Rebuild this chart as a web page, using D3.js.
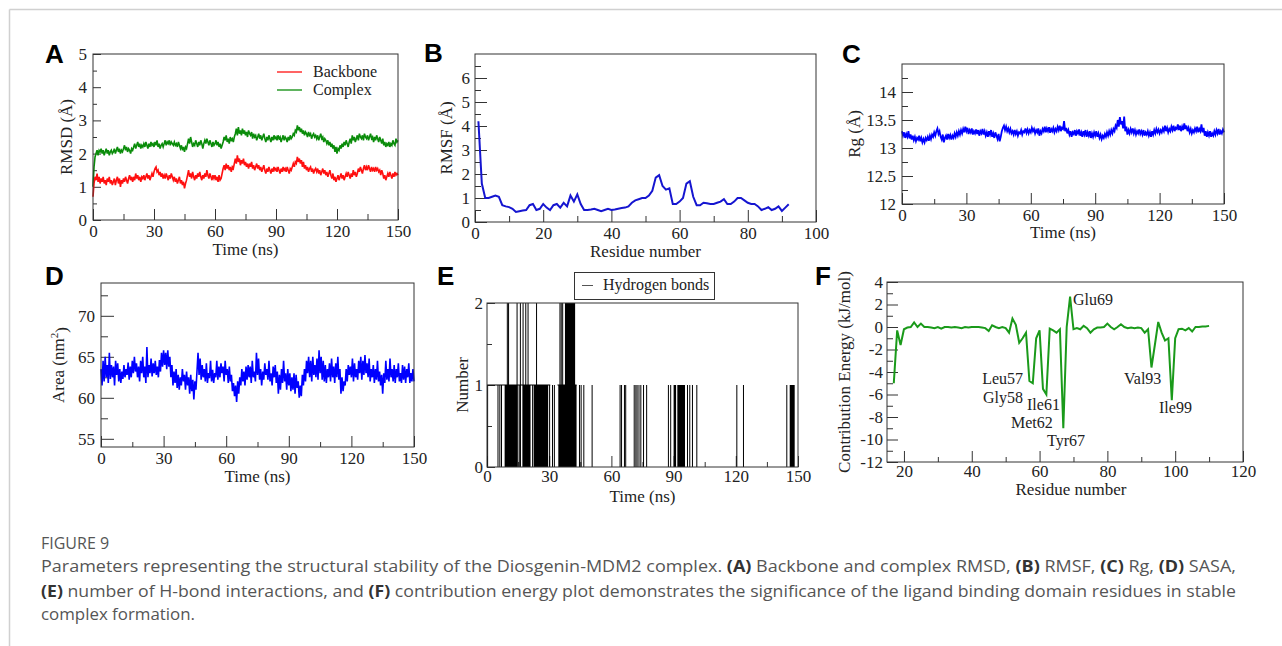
<!DOCTYPE html>
<html>
<head>
<meta charset="utf-8">
<script src="https://cdn.jsdelivr.net/npm/d3@7/dist/d3.min.js"></script>
<style>
html,body{margin:0;padding:0;background:#fff;}
svg{display:block;}
.tk text{font-family:"Liberation Serif","Times New Roman",serif !important;font-size:17px !important;fill:#222;}
.tk line{stroke:#333;stroke-width:1;}
.ttl{font-family:"Liberation Serif","Times New Roman",serif;font-size:17px;fill:#222;}
.plab{font-family:"Liberation Sans",Arial,sans-serif;font-weight:bold;font-size:26px;fill:#000;}
.cap{font-family:"Open Sans","Noto Sans",sans-serif;font-size:15.5px;fill:#555;}
</style>
</head>
<body>
<svg id="fig" width="1282" height="646"></svg>
<script>
// ---------------- DATA ----------------
const timeStep = 0.5; // ns between samples in A, C, D
const rmsdComplex = [
1.0,1.6,1.9,2.0,2.1,1.95,2.1,2.05,2.15,2.0,
2.1,1.95,2.05,2.15,2.0,2.1,1.95,2.05,2.1,2.0,
2.05,2.15,2.0,2.1,2.2,2.05,2.15,2.0,2.1,2.05,
2.15,2.25,2.1,2.2,2.05,2.15,2.1,2.0,2.15,2.1,
2.2,2.3,2.15,2.25,2.35,2.2,2.3,2.15,2.25,2.2,
2.3,2.2,2.35,2.25,2.15,2.3,2.2,2.35,2.25,2.3,
2.2,2.35,2.25,2.4,2.2,2.3,2.15,2.25,2.3,2.2,
2.3,2.4,2.25,2.35,2.3,2.4,2.25,2.35,2.3,2.25,
2.35,2.25,2.3,2.2,2.35,2.25,2.15,2.25,2.1,2.2,
2.05,2.2,2.15,2.3,2.45,2.3,2.5,2.35,2.2,2.3,
2.25,2.4,2.3,2.2,2.35,2.25,2.4,2.3,2.15,2.3,
2.4,2.3,2.45,2.35,2.25,2.4,2.3,2.2,2.35,2.25,
2.3,2.4,2.25,2.35,2.2,2.3,2.15,2.25,2.35,2.5,
2.4,2.55,2.35,2.45,2.3,2.5,2.4,2.45,2.35,2.5,
2.6,2.75,2.55,2.8,2.6,2.7,2.55,2.75,2.6,2.7,
2.55,2.65,2.5,2.7,2.6,2.55,2.65,2.45,2.6,2.5,
2.55,2.4,2.5,2.6,2.45,2.55,2.4,2.5,2.6,2.45,
2.35,2.5,2.4,2.55,2.45,2.35,2.5,2.4,2.55,2.45,
2.5,2.4,2.55,2.45,2.5,2.35,2.45,2.55,2.4,2.5,
2.45,2.35,2.5,2.4,2.55,2.45,2.5,2.6,2.55,2.7,
2.65,2.85,2.7,2.8,2.65,2.75,2.6,2.7,2.55,2.65,
2.6,2.5,2.65,2.55,2.6,2.45,2.55,2.6,2.5,2.55,
2.45,2.55,2.4,2.5,2.6,2.45,2.5,2.35,2.45,2.4,
2.3,2.4,2.25,2.35,2.2,2.3,2.15,2.25,2.05,2.2,
2.0,2.15,2.1,2.25,2.15,2.3,2.2,2.35,2.25,2.4,
2.3,2.2,2.35,2.45,2.3,2.55,2.4,2.5,2.35,2.45,
2.55,2.4,2.6,2.5,2.45,2.55,2.4,2.6,2.5,2.45,
2.55,2.4,2.5,2.6,2.45,2.5,2.35,2.5,2.4,2.55,
2.45,2.35,2.5,2.4,2.3,2.45,2.25,2.35,2.2,2.3,
2.25,2.35,2.2,2.3,2.25,2.4,2.3,2.25,2.45,2.35,
2.4];
const rmsdBackbone = [
0.7,1.1,1.3,1.2,1.4,1.15,1.3,1.1,1.25,1.15,
1.3,1.1,1.2,1.05,1.25,1.15,1.3,1.1,1.2,1.05,
1.15,1.25,1.05,1.2,1.3,1.1,1.25,1.0,1.2,1.1,
1.25,1.15,1.3,1.2,1.1,1.25,1.35,1.2,1.3,1.15,
1.3,1.2,1.4,1.25,1.35,1.2,1.3,1.15,1.3,1.25,
1.35,1.2,1.3,1.4,1.25,1.35,1.2,1.3,1.4,1.3,
1.45,1.55,1.6,1.45,1.5,1.35,1.45,1.3,1.4,1.25,
1.35,1.25,1.4,1.3,1.2,1.35,1.25,1.4,1.3,1.2,
1.3,1.15,1.25,1.1,1.2,1.3,1.1,1.2,1.05,1.15,
0.95,1.1,1.2,1.35,1.5,1.3,1.4,1.25,1.45,1.3,
1.2,1.35,1.25,1.4,1.3,1.45,1.3,1.2,1.35,1.25,
1.4,1.3,1.5,1.35,1.25,1.4,1.3,1.2,1.35,1.25,
1.35,1.2,1.3,1.15,1.35,1.2,1.25,1.4,1.55,1.65,
1.5,1.7,1.55,1.65,1.5,1.6,1.45,1.6,1.55,1.7,
1.85,1.7,1.95,1.75,1.85,1.65,1.8,1.7,1.85,1.65,
1.75,1.6,1.7,1.55,1.7,1.6,1.75,1.55,1.65,1.5,
1.6,1.7,1.55,1.65,1.5,1.6,1.45,1.55,1.65,1.5,
1.4,1.55,1.45,1.6,1.5,1.4,1.55,1.45,1.6,1.5,
1.55,1.45,1.6,1.5,1.4,1.55,1.45,1.6,1.5,1.55,
1.45,1.6,1.5,1.4,1.55,1.5,1.6,1.7,1.6,1.75,
1.7,1.9,1.75,1.85,1.7,1.8,1.6,1.75,1.55,1.65,
1.5,1.6,1.45,1.55,1.6,1.45,1.55,1.4,1.5,1.55,
1.45,1.55,1.4,1.5,1.35,1.45,1.55,1.4,1.5,1.35,
1.45,1.3,1.4,1.5,1.35,1.25,1.4,1.2,1.3,1.15,
1.25,1.35,1.2,1.3,1.4,1.25,1.35,1.2,1.3,1.4,
1.3,1.45,1.35,1.25,1.4,1.3,1.5,1.35,1.45,1.3,
1.4,1.55,1.45,1.6,1.5,1.4,1.55,1.65,1.5,1.6,
1.5,1.65,1.55,1.45,1.6,1.5,1.55,1.45,1.6,1.5,
1.55,1.45,1.5,1.35,1.5,1.4,1.25,1.35,1.2,1.3,
1.4,1.3,1.45,1.35,1.25,1.4,1.3,1.45,1.35,1.4,
1.35];
const rmsfResidues = [1,2,3,4,5,6,7,8,9,10,11,12,13,14,15,16,17,18,19,20,21,22,23,24,25,26,27,28,29,30,31,32,33,34,35,36,37,38,39,40,41,42,43,44,45,46,47,48,49,50,51,52,53,54,55,56,57,58,59,60,61,62,63,64,65,66,67,68,69,70,71,72,73,74,75,76,77,78,79,80,81,82,83,84,85,86,87,88,89,90,91,92];
const rmsfValues = [4.2,1.6,1.0,1.0,1.05,1.1,1.05,0.7,0.65,0.62,0.55,0.42,0.45,0.48,0.5,0.7,0.75,0.5,0.55,0.75,0.6,0.5,0.7,0.75,0.6,0.8,0.65,1.1,0.85,1.15,0.75,0.5,0.5,0.52,0.55,0.5,0.45,0.5,0.55,0.5,0.52,0.55,0.58,0.6,0.65,0.8,0.9,0.95,1.0,1.0,1.1,1.3,1.85,1.95,1.5,1.35,1.4,0.75,0.75,0.85,1.0,1.6,1.7,1.05,0.7,0.7,0.8,0.78,0.75,0.75,0.8,0.85,0.95,0.75,0.75,0.85,1.0,1.0,0.9,0.8,0.75,0.75,0.65,0.5,0.55,0.62,0.5,0.55,0.65,0.46,0.6,0.74];
const rgValues = [
13.3,13.22,13.28,13.18,13.25,13.2,13.3,13.17,13.24,13.15,
13.22,13.14,13.2,13.12,13.18,13.15,13.22,13.12,13.18,13.1,
13.16,13.1,13.18,13.14,13.2,13.13,13.22,13.16,13.24,13.2,
13.28,13.22,13.3,13.35,13.25,13.3,13.2,13.15,13.24,13.1,
13.18,13.22,13.15,13.25,13.18,13.23,13.15,13.22,13.18,13.26,
13.2,13.28,13.22,13.3,13.24,13.32,13.26,13.34,13.28,13.38,
13.3,13.36,13.25,13.32,13.28,13.35,13.24,13.3,13.26,13.33,
13.25,13.32,13.22,13.3,13.26,13.34,13.24,13.3,13.22,13.28,
13.2,13.3,13.24,13.32,13.2,13.26,13.18,13.28,13.22,13.16,
13.25,13.12,13.2,13.3,13.36,13.4,13.32,13.38,13.3,13.35,
13.28,13.34,13.26,13.3,13.24,13.32,13.25,13.3,13.22,13.28,
13.26,13.32,13.24,13.3,13.28,13.35,13.27,13.33,13.26,13.32,
13.28,13.36,13.3,13.34,13.26,13.32,13.28,13.35,13.22,13.3,
13.26,13.34,13.3,13.38,13.28,13.35,13.3,13.37,13.27,13.34,
13.3,13.36,13.28,13.34,13.3,13.38,13.32,13.4,13.3,13.36,
13.34,13.48,13.3,13.36,13.26,13.32,13.24,13.3,13.2,13.28,
13.25,13.32,13.22,13.3,13.26,13.33,13.22,13.28,13.2,13.3,
13.24,13.32,13.2,13.28,13.22,13.3,13.18,13.26,13.2,13.28,
13.22,13.3,13.2,13.26,13.18,13.24,13.16,13.22,13.18,13.25,
13.2,13.28,13.22,13.3,13.24,13.32,13.26,13.34,13.3,13.4,
13.36,13.5,13.38,13.55,13.42,13.48,13.35,13.56,13.3,13.38,
13.24,13.32,13.26,13.34,13.28,13.35,13.26,13.32,13.24,13.3,
13.26,13.33,13.25,13.3,13.24,13.32,13.22,13.28,13.24,13.3,
13.22,13.28,13.2,13.3,13.24,13.32,13.26,13.34,13.28,13.33,
13.26,13.32,13.28,13.35,13.3,13.4,13.3,13.36,13.28,13.34,
13.3,13.38,13.32,13.4,13.3,13.36,13.34,13.42,13.32,13.4,
13.3,13.38,13.32,13.44,13.34,13.4,13.3,13.36,13.28,13.34,
13.26,13.32,13.28,13.35,13.3,13.38,13.28,13.34,13.3,13.42,
13.28,13.36,13.22,13.3,13.2,13.28,13.22,13.3,13.2,13.26,
13.22,13.3,13.24,13.32,13.26,13.34,13.24,13.3,13.26,13.33,
13.28];
const sasaValues = [
63.5,61.5,64.5,62,65,62.5,64,61.8,65.5,62.3,
64,62.5,63.8,61.5,64.5,62.8,64.2,62,63.5,61.8,
63.2,62.3,64,62.5,63.5,62.8,64.3,62.2,63.8,62.5,
64.5,63,65,63.2,64.2,62.5,63.8,62,64.5,63,
65,62.5,63.8,61.8,66.2,62.5,64,63,64.8,62.6,
64.2,63,64.5,62.8,63.8,62.5,64.6,63.2,65.5,63.8,
65.8,64,65.5,63.5,65.8,63.8,65,62.5,64,61.5,
63.2,61.8,63.5,61.2,62.8,61,62.5,61.5,63.5,62,
62.8,61,63.2,61.5,62.5,60.5,62.8,60.8,62.2,59.8,
62,61,63.2,65.5,62.8,64.8,62.2,64,62.5,63.5,
62,64.2,61.8,63,62.4,64.5,62,63.4,61.8,63,
62.5,64.5,62.2,63.8,62.5,64.2,63,63.8,62,64.5,
62.8,63.5,61.8,63.8,62,62.8,60.8,61.8,60.2,61.5,
59.5,62,60.5,62.5,61.5,63.5,62,63.2,61.5,63.8,
62.2,64,62.5,63.8,61.8,64.5,62.5,63.2,62,65.5,
62.8,64.8,62.2,63.5,61.5,63.2,62.2,64.2,62.8,63.5,
62.2,64.5,62,63,61.5,63.8,62.5,64,61.8,63.2,
60.5,62.8,61,63.5,61.8,64.5,62,63,61,63.5,
61.5,63,60.8,62.5,61,63,60.5,62.8,61.2,62,
60,61.5,60.2,62.8,61.5,63.5,62,64.5,63,65,
62.5,64.5,62,65,62.8,64,62.5,64.8,62.2,65.8,
63,65,62.2,64.5,62,64,61.8,63.5,62.5,64.2,
62,64.8,62.5,63.8,61.8,64.2,62.5,65,62.2,63.5,
60.5,62.5,60.8,62,61.5,63.5,62,64,62.8,63.8,
62.5,64.8,62,64.2,62.5,63.5,62.2,64.5,63,65,
62.2,64.5,62.8,65.2,63,64.2,62.5,64.8,62,63.5,
62.5,64,61.8,63.5,62.2,64.5,62,63.2,61.5,62.8,
60.5,63,61.8,64.5,62.2,63.5,62,64.8,62.5,63.5,
62,64,61.8,63.5,62.5,64.2,62,63,61.8,64,
62.2,63.8,61.8,63.5,62.5,64.2,61.8,63,62,63.5,
62];
// Hydrogen bonds: isolated frames (time, ns) and dense stretches [start, end]
const hbSingles1 = [0.3,5.3,6.2,7.0,15.5,16.0,22.0,30.2,31.6,32.5,44.6,45.4,46.7,50.7,64.2,64.9,66.3,66.9,71.0,71.8,72.4,73.3,74.2,75.5,77.0,87.5,88.6,96.7,97.8,99.1,101.2,120.5,123.7,144.6];
const hbDense1 = [[8.5,14.8],[17.2,21.0],[22.5,29.5],[34.4,43.2],[90.0,91.2],[91.8,95.5],[146.0,148.4]];
const hbSingles2 = [9.8,10.4,14.5,16.1,17.4,18.7,19.8,23.9,35.2,35.8,36.5];
const hbDense2 = [[37.6,42.5]];
const hbLevel1 = [[0,30.5],[34,43.2]];
// Contribution energy per residue
const energyResidues = [17,18,19,20,21,22,23,24,25,26,27,28,29,30,31,32,33,34,35,36,37,38,39,40,41,42,43,44,45,46,47,48,49,50,51,52,53,54,55,56,57,58,59,60,61,62,63,64,65,66,67,68,69,70,71,72,73,74,75,76,77,78,79,80,81,82,83,84,85,86,87,88,89,90,91,92,93,94,95,96,97,98,99,100,101,102,103,104,105,106,107,108,109,110];
const energyValues = [-5.0,-0.3,-1.6,-0.2,-0.05,0.0,0.4,0.0,0.3,0.0,0.0,-0.05,-0.1,0.0,-0.15,0.0,0.0,-0.05,0.0,-0.05,-0.1,0.0,-0.05,0.0,0.0,0.0,-0.05,-0.1,-0.35,0.15,0.0,-0.1,0.0,-0.1,-0.5,0.75,0.2,-1.4,-1.0,-0.5,-4.8,-5.0,-1.0,-0.3,-5.5,-6.0,-0.15,-0.3,-0.5,-0.2,-9.0,0.0,2.7,-0.2,-0.1,-0.2,0.1,-0.1,-0.5,-0.2,-0.05,-0.05,0.0,0.3,0.0,-0.2,0.0,0.25,0.0,-0.1,-0.05,-0.1,-0.05,-0.1,-0.5,-0.2,-3.6,-1.6,0.45,-0.5,-1.2,-1.0,-6.5,-1.0,-0.2,-0.15,-0.3,-0.1,-0.4,0.0,0.0,0.05,0.05,0.1];
const energyLabels = [
  {text:"Glu69", anchor:"start", lx:1073, ly:305},
  {text:"Leu57", anchor:"end", lx:1023, ly:384},
  {text:"Gly58", anchor:"end", lx:1023, ly:403},
  {text:"Ile61", anchor:"start", lx:1027, ly:410},
  {text:"Met62", anchor:"start", lx:1011, ly:428},
  {text:"Tyr67", anchor:"start", lx:1047, ly:446},
  {text:"Val93", anchor:"start", lx:1124, ly:384},
  {text:"Ile99", anchor:"start", lx:1159, ly:413}
];
const timeTicks = [0,30,60,90,120,150];
const timeMinor = [15,45,75,105,135];

// ---------------- DRAW ----------------
const svg = d3.select("#fig");
svg.append("line").attr("x1",9.5).attr("y1",9.5).attr("x2",1282).attr("y2",9.5).attr("stroke","#d0d0d0").attr("stroke-width",1.5);
svg.append("line").attr("x1",9.5).attr("y1",9.5).attr("x2",9.5).attr("y2",646).attr("stroke","#d0d0d0").attr("stroke-width",1.5);

function panel(c){
  const g = svg.append("g");
  const x = d3.scaleLinear().domain(c.xd).range([c.l,c.r]);
  const y = d3.scaleLinear().domain(c.yd).range([c.b,c.t]);
  const fmt = c.yfmt || (d=>d);
  const fix = s=>{ s.select(".domain").remove(); s.attr("font-size",null).attr("font-family",null); };
  g.append("g").attr("class","tk").attr("transform",`translate(0,${c.b})`)
    .call(d3.axisBottom(x).tickValues(c.xmin).tickSize(-c.xm[1]).tickFormat(""))
    .call(fix);
  g.append("g").attr("class","tk").attr("transform",`translate(0,${c.b})`)
    .call(d3.axisBottom(x).tickValues(c.xmaj).tickSize(-c.xm[0]).tickPadding(c.xpad||5).tickFormat(d=>d))
    .call(fix);
  g.append("g").attr("class","tk").attr("transform",`translate(${c.l},0)`)
    .call(d3.axisLeft(y).tickValues(c.ymin).tickSize(-c.ym[1]).tickFormat(""))
    .call(fix);
  g.append("g").attr("class","tk").attr("transform",`translate(${c.l},0)`)
    .call(d3.axisLeft(y).tickValues(c.ymaj).tickSize(-c.ym[0]).tickPadding(c.ypad||6).tickFormat(fmt))
    .call(fix);
  g.append("text").attr("class","ttl").attr("x",(c.l+c.r)/2 + (c.xtdx||0)).attr("y",c.b+c.xty)
    .attr("text-anchor","middle").text(c.xt);
  const yt = g.append("text").attr("class","ttl").attr("text-anchor","middle")
    .attr("transform",`translate(${c.ytx},${(c.t+c.b)/2}) rotate(-90)`).attr("dy","0.35em");
  if (c.ytFn) c.ytFn(yt); else yt.text(c.yt);
  g.append("text").attr("class","plab").attr("x",c.lab[0]).attr("y",c.lab[1]).text(c.labt);
  const plot = g.append("g");
  g.append("rect").attr("x",c.l).attr("y",c.t).attr("width",c.r-c.l).attr("height",c.b-c.t)
    .attr("fill","none").attr("stroke","#333").attr("stroke-width",1);
  return {g:plot,x,y,root:g};
}

// A: RMSD
{
  const p = panel({l:93,r:398,t:54,b:220,xd:[0,150],yd:[0,5],xmaj:timeTicks,xmin:timeMinor,
    ymaj:[0,1,2,3,4,5],ymin:[0.5,1.5,2.5,3.5,4.5],xm:[11,6],ym:[8,4],
    xt:"Time (ns)",xty:35,yt:"RMSD (Å)",ytx:66,lab:[45,63],labt:"A"});
  const line = d3.line().x((d,i)=>p.x(i*timeStep)).y(d=>p.y(d));
  p.g.append("path").datum(rmsdComplex).attr("d",line).attr("fill","none").attr("stroke","#0a8c0a").attr("stroke-width",1.6);
  p.g.append("path").datum(rmsdBackbone).attr("d",line).attr("fill","none").attr("stroke","#ff1010").attr("stroke-width",1.6);
  const leg = [{t:"Backbone",c:"#ff1010",y:72},{t:"Complex",c:"#0a8c0a",y:90}];
  leg.forEach(l=>{
    p.root.append("line").attr("x1",277).attr("x2",302).attr("y1",l.y).attr("y2",l.y).attr("stroke",l.c).attr("stroke-width",1.3);
    p.root.append("text").attr("class","ttl").attr("x",313).attr("y",l.y+5).style("font-size","16px").text(l.t);
  });
}
// B: RMSF
{
  const p = panel({l:475,r:816,t:54,b:222,xd:[0,100],yd:[0,7],xmaj:[0,20,40,60,80,100],xmin:[10,30,50,70,90],
    ymaj:[0,1,2,3,4,5,6],ymin:[0.5,1.5,2.5,3.5,4.5,5.5,6.5],xm:[12,6],ym:[12,6],ypad:5,
    xt:"Residue number",xty:35,yt:"RMSF (Å)",ytx:446,lab:[424,62],labt:"B"});
  const line = d3.line().x((d,i)=>p.x(rmsfResidues[i])).y(d=>p.y(d));
  p.g.append("path").datum(rmsfValues).attr("d",line).attr("fill","none").attr("stroke","#1515d0").attr("stroke-width",2);
}
// C: Rg
{
  const p = panel({l:902,r:1224,t:64,b:204,xd:[0,150],yd:[12,14.5],xmaj:timeTicks,xmin:timeMinor,
    ymaj:[12,12.5,13,13.5,14],ymin:[12.25,12.75,13.25,13.75,14.25],xm:[11,5],ym:[11,6],
    xt:"Time (ns)",xty:34,yt:"Rg (Å)",ytx:854,lab:[842,63],labt:"C"});
  const line = d3.line().x((d,i)=>p.x(i*timeStep)).y(d=>p.y(d));
  p.g.append("path").datum(rgValues).attr("d",line).attr("fill","none").attr("stroke","#0000ff").attr("stroke-width",1.8);
}
// D: SASA
{
  const p = panel({l:101,r:414,t:283,b:447,xd:[0,150],yd:[54,74],xmaj:timeTicks,xmin:timeMinor,
    ymaj:[55,60,65,70],ymin:[57.5,62.5,67.5,72.5],xm:[11,5],ym:[13,7],
    xt:"Time (ns)",xty:35,yt:"Area",ytx:58,lab:[45,285],labt:"D",
    ytFn:t=>{t.text("Area (nm"); t.append("tspan").attr("dy","-0.55em").style("font-size","11px").text("2"); t.append("tspan").attr("dy","0.55em").text(")");}});
  const line = d3.line().x((d,i)=>p.x(i*timeStep)).y(d=>p.y(d));
  p.g.append("path").datum(sasaValues).attr("d",line).attr("fill","none").attr("stroke","#0000ff").attr("stroke-width",1.6);
}
// E: Hydrogen bonds
{
  const p = panel({l:487,r:798,t:303,b:467,xd:[0,150],yd:[0,2],xmaj:timeTicks,xmin:timeMinor,
    ymaj:[0,1,2],ymin:[0.5,1.5],xm:[11,5],ym:[8,5],ypad:4,xpad:3,
    xt:"Time (ns)",xty:35,yt:"Number",ytx:462,lab:[437,285],labt:"E"});
  hbDense1.forEach(b=>p.g.append("rect").attr("x",p.x(b[0])).attr("width",p.x(b[1])-p.x(b[0])).attr("y",p.y(1)).attr("height",p.y(0)-p.y(1)).attr("fill","#000"));
  hbDense2.forEach(b=>p.g.append("rect").attr("x",p.x(b[0])).attr("width",p.x(b[1])-p.x(b[0])).attr("y",p.y(2)).attr("height",p.y(0)-p.y(2)).attr("fill","#000"));
  hbSingles1.forEach(t=>p.g.append("line").attr("x1",p.x(t)).attr("x2",p.x(t)).attr("y1",p.y(0)).attr("y2",p.y(1)).attr("stroke","#000").attr("stroke-width",1));
  hbSingles2.forEach(t=>p.g.append("line").attr("x1",p.x(t)).attr("x2",p.x(t)).attr("y1",p.y(0)).attr("y2",p.y(2)).attr("stroke","#000").attr("stroke-width",1));
  hbLevel1.forEach(b=>p.g.append("line").attr("x1",p.x(b[0])).attr("x2",p.x(b[1])).attr("y1",p.y(1)).attr("y2",p.y(1)).attr("stroke","#000").attr("stroke-width",1));
  p.root.append("rect").attr("x",574.5).attr("y",272.5).attr("width",140).attr("height",27).attr("fill","#fff").attr("stroke","#333");
  p.root.append("line").attr("x1",582).attr("x2",593).attr("y1",285.5).attr("y2",285.5).attr("stroke","#555");
  p.root.append("text").attr("class","ttl").attr("x",603).attr("y",290).style("font-size","16px").text("Hydrogen bonds");
}
// F: contribution energy
{
  const p = panel({l:887,r:1243,t:282,b:462,xd:[15,120],yd:[-12,4],xmaj:[20,40,60,80,100,120],xmin:[30,50,70,90,110],
    ymaj:[-12,-10,-8,-6,-4,-2,0,2,4],ymin:[-11,-9,-7,-5,-3,-1,1,3],xm:[11,5],ym:[11,6],ypad:4,xpad:3,
    xt:"Residue number",xty:33,xtdx:6,yt:"Contribution Energy (kJ/mol)",ytx:844,lab:[815,285],labt:"F"});
  const line = d3.line().x((d,i)=>p.x(energyResidues[i])).y(d=>p.y(d));
  p.g.append("path").datum(energyValues).attr("d",line).attr("fill","none").attr("stroke","#1a9a1a").attr("stroke-width",2);
  energyLabels.forEach(l=>p.root.append("text").attr("class","ttl").style("font-size","16px")
    .attr("x",l.lx).attr("y",l.ly).attr("text-anchor",l.anchor).text(l.text));
}

// ---------------- CAPTION ----------------
svg.append("text").attr("class","cap").attr("x",41).attr("y",549).style("font-size","16px").style("fill","#555").text("FIGURE 9");
const capLines = [
  {y:572,w:1195,parts:[["Parameters representing the structural stability of the Diosgenin-MDM2 complex. ",0],["(A)",1],[" Backbone and complex RMSD, ",0],["(B)",1],[" RMSF, ",0],["(C)",1],[" Rg, ",0],["(D)",1],[" SASA,",0]]},
  {y:597,w:1195,parts:[["(E)",1],[" number of H-bond interactions, and ",0],["(F)",1],[" contribution energy plot demonstrates the significance of the ligand binding domain residues in stable",0]]},
  {y:620,w:154,parts:[["complex formation.",0]]}
];
capLines.forEach(L=>{
  const t = svg.append("text").attr("class","cap").attr("x",41).attr("y",L.y)
    .attr("textLength",L.w).attr("lengthAdjust","spacingAndGlyphs");
  L.parts.forEach(pp=>t.append("tspan").text(pp[0]).style("font-weight",pp[1]?"bold":"normal").style("fill",pp[1]?"#333":"#555"));
});
</script>
</body>
</html>
